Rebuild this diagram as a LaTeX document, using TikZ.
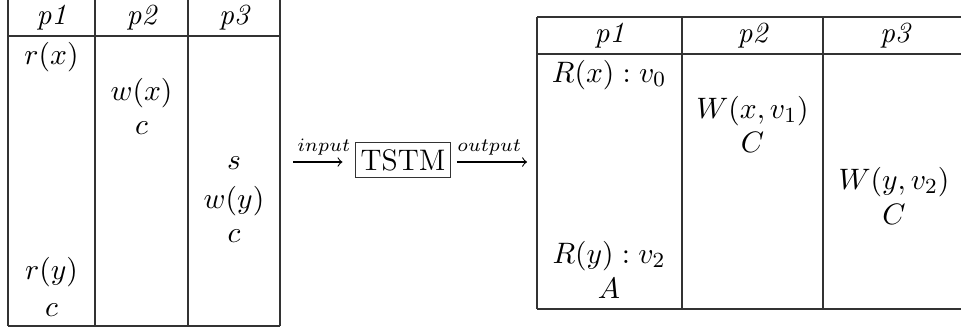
\documentclass[tikz,border=0pt]{standalone}
\usetikzlibrary{positioning}

\begin{document}
\begin{tikzpicture}[x=0.3704pt, y=-0.3704pt, font=\fontsize{10.8}{13}\selectfont]
\tikzstyle{grid} = [draw=black!80, line width=0.4pt]
\tikzstyle{cell} = [inner sep=0pt, anchor=center]
\tikzstyle{head} = [cell, font=\fontsize{10.8}{13}\selectfont\itshape]
\tikzstyle{block} = [rectangle, draw=black!80, line width=0.4pt, inner sep=1pt,
    minimum width=35.5pt, minimum height=13.3pt, font=\fontsize{11}{13}\selectfont]
\tikzstyle{line} = [draw, ->, line width=0.4pt]
\tikzstyle{lbl} = [above, font=\fontsize{7.5}{9}\selectfont, inner sep=2.5pt]

\useasboundingbox (0,0) rectangle (961,329);

% history given to the manager
\foreach \x in {8,95,188,280} \draw[grid] (\x,0) -- (\x,326);
\draw[grid] (8,36) -- (280,36);
\draw[grid] (8,326) -- (280,326);

\node (hp1) [head] at (51.5,18) {p1};
\node (hp2) [head] at (141.5,18) {p2};
\node (hp3) [head] at (234,18) {p3};

\node (rx) [cell] at (51.5,57) {$r(x)$};
\node (ry) [cell] at (51.5,272) {$r(y)$};
\node (c1) [cell] at (51.5,310) {$c$};
\node (wx) [cell] at (141.5,93) {$w(x)$};
\node (c2) [cell] at (141.5,128) {$c$};
\node (s3) [cell] at (234,163) {$s$};
\node (wy) [cell] at (234,201) {$w(y)$};
\node (c3) [cell] at (234,236) {$c$};

% transaction manager
\node (tstm) [block] at (403,160) {TSTM};
\coordinate (inStart) at (293,162);
\coordinate (outEnd) at (527,162);

\path[line, shorten >=4.5pt] (inStart) -- node[lbl] {$input$} (tstm.west |- inStart);
\path[line, shorten <=2pt] (tstm.east |- outEnd) -- node[lbl] {$output$} (outEnd);

% resulting execution
\foreach \x in {537,682,823} \draw[grid] (\x,17) -- (\x,309);
\foreach \y in {17,54,309} \draw[grid] (537,\y) -- (961,\y);

\node (op1) [head] at (609.5,36) {p1};
\node (op2) [head] at (752.5,36) {p2};
\node (op3) [head] at (895,36) {p3};

\node (Rx) [cell] at (609,75) {$R(x) : v_0$};
\node (Ry) [cell] at (609,256) {$R(y) : v_2$};
\node (A1) [cell] at (609,288) {$A$};
\node (Wx) [cell] at (752.5,111) {$W(x, v_1)$};
\node (C2) [cell] at (752.5,142) {$C$};
\node (Wy) [cell] at (894,182) {$W(y, v_2)$};
\node (C3) [cell] at (894,214) {$C$};
\end{tikzpicture}
\end{document}
